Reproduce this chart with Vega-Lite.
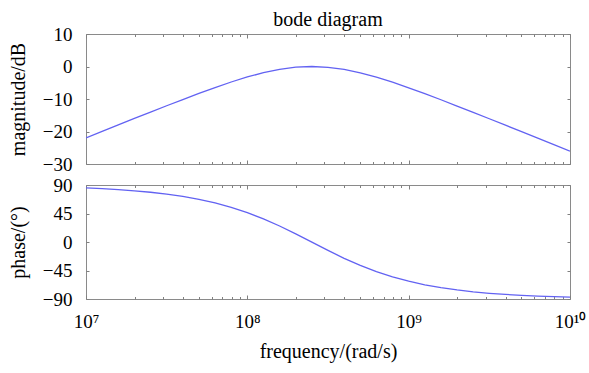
{
  "$schema": "https://vega.github.io/schema/vega-lite/v6.json",
  "padding": {"left": 7, "top": 9, "right": 18, "bottom": 5},
  "config": {
    "view": {"stroke": "#8a8a8a", "strokeWidth": 1},
    "font": "Liberation Serif",
    "axis": {"grid": false, "domain": false, "tickColor": "#808080", "labelFont": "Liberation Serif", "labelFontSize": 19, "labelColor": "#000", "titleFont": "Liberation Serif", "titleFontSize": 20, "titleFontWeight": "normal", "titleColor": "#000"}
  },
  "datasets": {
    "bode": [
      {"f": 1e7, "mag": -21.95, "phase": 85.42},
      {"f": 1.2589e7, "mag": -19.96, "phase": 84.23},
      {"f": 1.5849e7, "mag": -17.97, "phase": 82.74},
      {"f": 1.9953e7, "mag": -15.99, "phase": 80.88},
      {"f": 2.5119e7, "mag": -14.03, "phase": 78.53},
      {"f": 3.1623e7, "mag": -12.08, "phase": 75.58},
      {"f": 3.9811e7, "mag": -10.16, "phase": 71.90},
      {"f": 5.0119e7, "mag": -8.28, "phase": 67.33},
      {"f": 6.3096e7, "mag": -6.47, "phase": 61.67},
      {"f": 7.9433e7, "mag": -4.77, "phase": 54.75},
      {"f": 1e8, "mag": -3.23, "phase": 46.40},
      {"f": 1.2589e8, "mag": -1.90, "phase": 36.54},
      {"f": 1.5849e8, "mag": -0.87, "phase": 25.24},
      {"f": 1.9953e8, "mag": -0.22, "phase": 12.80},
      {"f": 2.5119e8, "mag": 0.00, "phase": -0.27},
      {"f": 3.1623e8, "mag": -0.24, "phase": -13.34},
      {"f": 3.9811e8, "mag": -0.91, "phase": -25.74},
      {"f": 5.0119e8, "mag": -1.95, "phase": -36.96},
      {"f": 6.3096e8, "mag": -3.29, "phase": -46.78},
      {"f": 7.9433e8, "mag": -4.84, "phase": -55.06},
      {"f": 1e9, "mag": -6.55, "phase": -61.93},
      {"f": 1.2589e9, "mag": -8.36, "phase": -67.54},
      {"f": 1.5849e9, "mag": -10.23, "phase": -72.07},
      {"f": 1.9953e9, "mag": -12.16, "phase": -75.72},
      {"f": 2.5119e9, "mag": -14.11, "phase": -78.63},
      {"f": 3.1623e9, "mag": -16.08, "phase": -80.96},
      {"f": 3.9811e9, "mag": -18.05, "phase": -82.81},
      {"f": 5.0119e9, "mag": -20.04, "phase": -84.29},
      {"f": 6.3096e9, "mag": -22.03, "phase": -85.46},
      {"f": 7.9433e9, "mag": -24.03, "phase": -86.39},
      {"f": 1e10, "mag": -26.03, "phase": -87.14}
    ]
  },
  "spacing": 0,
  "vconcat": [
    {
      "title": {"text": "bode diagram", "font": "Liberation Serif", "fontSize": 20, "fontWeight": "normal", "color": "#000", "anchor": "middle", "frame": "group", "offset": -5},
      "width": 484,
      "height": 130,
      "data": {"name": "bode"},
      "layer": [
        {
          "mark": {"type": "line", "color": "#6262f2", "strokeWidth": 1.3, "clip": true},
          "encoding": {
            "x": {"field": "f", "type": "quantitative", "scale": {"type": "log", "domain": [1e7, 1e10], "nice": false},
              "axis": {"orient": "bottom", "values": [1e7,2e7,3e7,4e7,5e7,6e7,7e7,8e7,9e7,1e8,2e8,3e8,4e8,5e8,6e8,7e8,8e8,9e8,1e9,2e9,3e9,4e9,5e9,6e9,7e9,8e9,9e9,1e10], "labels": false, "title": null,
                "tickSize": {"condition": {"test": "datum.value == 1e7 || datum.value == 1e8 || datum.value == 1e9 || datum.value == 1e10", "value": -4}, "value": -2.5}}},
            "y": {"field": "mag", "type": "quantitative", "scale": {"domain": [-30, 10], "nice": false},
              "axis": {"orient": "left", "values": [-30, -20, -10, 0, 10], "title": "magnitude/dB", "tickSize": -3, "labelPadding": 17, "titlePadding": 14}}
          }
        },
        {
          "mark": {"type": "line", "strokeOpacity": 0},
          "encoding": {
            "x": {"field": "f", "type": "quantitative", "scale": {"type": "log", "domain": [1e7, 1e10], "nice": false},
              "axis": {"orient": "top", "values": [1e7,2e7,3e7,4e7,5e7,6e7,7e7,8e7,9e7,1e8,2e8,3e8,4e8,5e8,6e8,7e8,8e8,9e8,1e9,2e9,3e9,4e9,5e9,6e9,7e9,8e9,9e9,1e10], "labels": false, "title": null,
                "tickSize": {"condition": {"test": "datum.value == 1e7 || datum.value == 1e8 || datum.value == 1e9 || datum.value == 1e10", "value": -4}, "value": -2.5}}},
            "y": {"field": "mag", "type": "quantitative", "scale": {"domain": [-30, 10], "nice": false},
              "axis": {"orient": "right", "values": [-30, -20, -10, 0, 10], "labels": false, "title": null, "tickSize": -3}}
          }
        }
      ],
      "resolve": {"axis": {"x": "independent", "y": "independent"}}
    },
    {
      "width": 484,
      "height": 114,
      "data": {"name": "bode"},
      "layer": [
        {
          "mark": {"type": "line", "color": "#6262f2", "strokeWidth": 1.3, "clip": true},
          "encoding": {
            "x": {"field": "f", "type": "quantitative", "scale": {"type": "log", "domain": [1e7, 1e10], "nice": false},
              "axis": {"orient": "bottom", "values": [1e7,2e7,3e7,4e7,5e7,6e7,7e7,8e7,9e7,1e8,2e8,3e8,4e8,5e8,6e8,7e8,8e8,9e8,1e9,2e9,3e9,4e9,5e9,6e9,7e9,8e9,9e9,1e10],
                "labelExpr": "datum.value == 1e7 ? '10⁷' : datum.value == 1e8 ? '10⁸' : datum.value == 1e9 ? '10⁹' : datum.value == 1e10 ? '10¹⁰' : ''",
                "labelFlush": false, "labelPadding": 17, "title": "frequency/(rad/s)", "titlePadding": 10,
                "tickSize": {"condition": {"test": "datum.value == 1e7 || datum.value == 1e8 || datum.value == 1e9 || datum.value == 1e10", "value": -4}, "value": -2.5}}},
            "y": {"field": "phase", "type": "quantitative", "scale": {"domain": [-90, 90], "nice": false},
              "axis": {"orient": "left", "values": [-90, -45, 0, 45, 90], "title": "phase/(°)", "tickSize": -3, "labelPadding": 17, "titlePadding": 14}}
          }
        },
        {
          "mark": {"type": "line", "strokeOpacity": 0},
          "encoding": {
            "x": {"field": "f", "type": "quantitative", "scale": {"type": "log", "domain": [1e7, 1e10], "nice": false},
              "axis": {"orient": "top", "values": [1e7,2e7,3e7,4e7,5e7,6e7,7e7,8e7,9e7,1e8,2e8,3e8,4e8,5e8,6e8,7e8,8e8,9e8,1e9,2e9,3e9,4e9,5e9,6e9,7e9,8e9,9e9,1e10], "labels": false, "title": null,
                "tickSize": {"condition": {"test": "datum.value == 1e7 || datum.value == 1e8 || datum.value == 1e9 || datum.value == 1e10", "value": -4}, "value": -2.5}}},
            "y": {"field": "phase", "type": "quantitative", "scale": {"domain": [-90, 90], "nice": false},
              "axis": {"orient": "right", "values": [-90, -45, 0, 45, 90], "labels": false, "title": null, "tickSize": -3}}
          }
        }
      ],
      "resolve": {"axis": {"x": "independent", "y": "independent"}}
    }
  ]
}
